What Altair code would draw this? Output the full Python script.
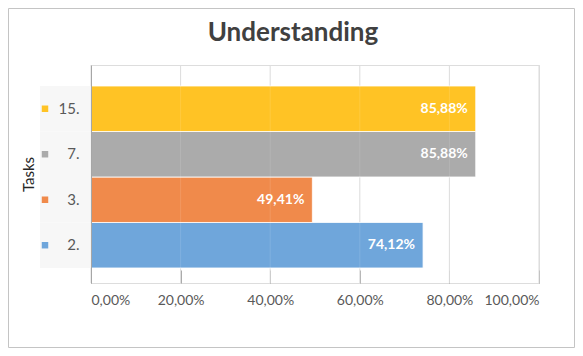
import altair as alt
import pandas as pd

tasks = ["2.", "3.", "7.", "15."]
values = [74.12, 49.41, 85.88, 85.88]
colors = ["#6FA6DB", "#F08A4B", "#ABABAB", "#FFC325"]
order = ["15.", "7.", "3.", "2."]
ticks = [0, 0.2, 0.4, 0.6, 0.8, 1.0]
title_text = ["Understanding"]

df = pd.DataFrame({"task": tasks, "value": [v / 100 for v in values]})
grid_df = pd.DataFrame({"t": ticks})
one = pd.DataFrame({"a": [0]})
title_df = pd.DataFrame({"title": title_text})

W, H = 448, 218
FONT = "Lato"

yscale = alt.Scale(domain=order, paddingInner=0, paddingOuter=0.396, align=0.583)
xscale = alt.Scale(domain=[0, 1], nice=False)
cscale = alt.Scale(domain=tasks, range=colors)

xaxis = alt.Axis(
    values=ticks, grid=False, domain=False, offset=-13, tickSize=13,
    tickColor="#a6a6a6", labelPadding=10, labelFontSize=14, labelFont=FONT,
    labelColor="#595959", title=None,
    labelExpr="replace(format(datum.value, '.2%'), '.', ',')",
)
yaxis = alt.Axis(
    ticks=False, domainColor="#a6a6a6", labelPadding=12, labelFontSize=15,
    labelFont=FONT, labelColor="#595959", title="Tasks", titleFont=FONT,
    titleFontSize=15, titleFontWeight="normal", titleColor="#262626",
    titleX=-63, titleY=H / 2, titleAngle=-90, titleBaseline="middle",
    labelAlign="right",
)

grid = alt.Chart(grid_df).mark_rule(color="#d9d9d9", strokeWidth=1).encode(
    x=alt.X("t:Q", scale=xscale, axis=xaxis)
)

labelbg = alt.Chart(df).mark_rect(color="#f7f7f7").encode(
    y=alt.Y("task:N", scale=yscale, axis=yaxis),
    x=alt.value(-51), x2=alt.value(-1),
)

bars = alt.Chart(df).mark_bar(stroke="white", strokeWidth=0.8).encode(
    y=alt.Y("task:N", scale=yscale, axis=yaxis),
    x=alt.X("value:Q", scale=xscale, axis=xaxis),
    color=alt.Color("task:N", scale=cscale, legend=None),
)

gridover = alt.Chart(grid_df).mark_rule(color="#ffffff", opacity=0.12).encode(
    x=alt.X("t:Q", scale=xscale, axis=xaxis)
)

labels = alt.Chart(df).transform_calculate(
    lab="replace(format(datum.value, '.2%'), '.', ',')"
).mark_text(
    align="right", baseline="middle", dx=-8, color="white",
    font=FONT, fontSize=14, fontWeight="bold",
).encode(
    y=alt.Y("task:N", scale=yscale, axis=yaxis),
    x=alt.X("value:Q", scale=xscale, axis=xaxis),
    text="lab:N",
)

keys = alt.Chart(df).mark_point(shape="square", filled=True, size=42, opacity=1, clip=False).encode(
    y=alt.Y("task:N", scale=yscale, axis=yaxis),
    x=alt.value(-46),
    color=alt.Color("task:N", scale=cscale, legend=None),
)

border = alt.Chart(one).mark_rect(fillOpacity=0, stroke="#c4c4c4", strokeWidth=1, clip=False).encode(
    x=alt.value(-82.5), x2=alt.value(483.5), y=alt.value(-56.5), y2=alt.value(282.5)
)

title = alt.Chart(title_df).mark_text(
    font=FONT, fontSize=26, fontWeight="bold", color="#404040",
    align="center", baseline="middle", clip=False,
).encode(
    text="title:N", x=alt.value(202), y=alt.value(-32)
)

chart = alt.layer(border, labelbg, grid, bars, gridover, labels, keys, title).properties(
    width=W, height=H,
    autosize=alt.AutoSizeParams(type="none"),
    padding={"left": 83, "top": 57, "right": 36, "bottom": 65},
).configure_view(stroke=None).configure(background="white")

chart.save("out.html", embed_options={"renderer": "svg", "actions": False})
